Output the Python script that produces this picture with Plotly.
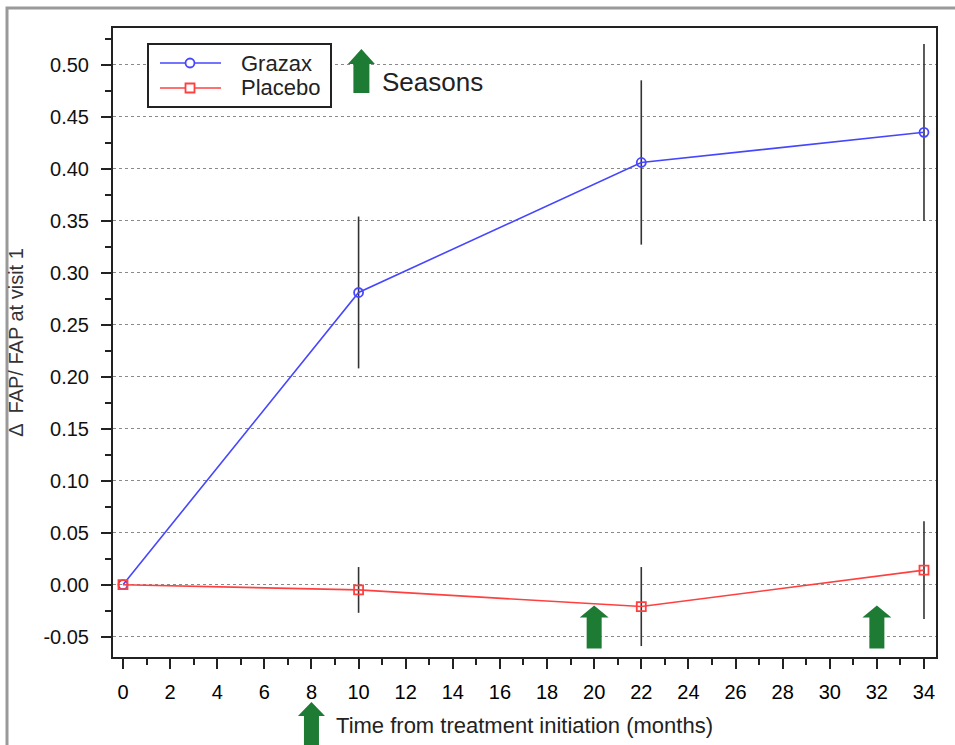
import plotly.graph_objects as go

# ---- data ----
months = [0, 10, 22, 34]
grazax = [0.0, 0.281, 0.406, 0.435]
grazax_err = [0.0, 0.073, 0.079, 0.085]
placebo = [0.0, -0.005, -0.021, 0.014]
placebo_err = [0.0, 0.022, 0.038, 0.047]
season_months = [8, 20, 32]
legend_arrow_month = 10.12
y_ticks = [-0.05, 0.0, 0.05, 0.10, 0.15, 0.20, 0.25, 0.30, 0.35, 0.40, 0.45, 0.50]
x_ticks = list(range(0, 35, 2))
series_names = ["Grazax", "Placebo"]

FONT = "Liberation Sans, Arial, sans-serif"
GREEN = "#1e7b34"
BLUE = "#4646ff"
RED = "#ff4040"

W, H = 955, 745
PL, PR, PT, PB = 113, 936, 28, 657  # plot area in screen pixels
ML, MR, MT, MB = PL, W - PR, PT, H - PB


def px(xp):
    return (xp - PL) / (PR - PL)


def py(yp):
    return (PB - yp) / (PB - PT)


fig = go.Figure()
fig.add_trace(go.Scatter(
    x=months, y=grazax, name=series_names[0], mode="lines+markers",
    line=dict(color=BLUE, width=1.6),
    marker=dict(symbol="circle-open", size=9, color=BLUE, line=dict(width=1.8)),
    error_y=dict(type="data", array=grazax_err, visible=True, color="#333333", thickness=1.6, width=0),
))
fig.add_trace(go.Scatter(
    x=months, y=placebo, name=series_names[1], mode="lines+markers",
    line=dict(color=RED, width=1.6),
    marker=dict(symbol="square-open", size=9, color=RED, line=dict(width=1.8)),
    error_y=dict(type="data", array=placebo_err, visible=True, color="#333333", thickness=1.6, width=0),
))


def arrow_path(head_w, shaft_w, head_h, total_h):
    hw, sw = head_w / 2, shaft_w / 2
    return (f"M0,0 L{hw},{-head_h} L{sw},{-head_h} L{sw},{-total_h} "
            f"L{-sw},{-total_h} L{-sw},{-head_h} L{-hw},{-head_h} Z")


shapes = []
# outer gray frame (right and bottom sides fall outside the picture)
shapes.append(dict(type="rect", xref="paper", yref="paper",
                   x0=px(7), x1=px(1000), y0=py(800), y1=py(8),
                   line=dict(color="#9a9a9a", width=3), fillcolor="rgba(0,0,0,0)", layer="below"))
# season arrows inside plot
for m in season_months[1:]:
    shapes.append(dict(type="path", xref="x", yref="y", xsizemode="pixel", ysizemode="pixel",
                       xanchor=m, yanchor=-0.020, path=arrow_path(29, 15, 12, 43),
                       fillcolor=GREEN, line=dict(width=0)))
# season arrow below x axis
shapes.append(dict(type="path", xref="x", yref="paper", xsizemode="pixel", ysizemode="pixel",
                   xanchor=season_months[0], yanchor=py(702), path=arrow_path(27, 15, 14, 60),
                   fillcolor=GREEN, line=dict(width=0)))
# "Seasons" legend arrow
shapes.append(dict(type="path", xref="x", yref="y", xsizemode="pixel", ysizemode="pixel",
                   xanchor=legend_arrow_month, yanchor=0.515, path=arrow_path(27, 16, 15, 44),
                   fillcolor=GREEN, line=dict(width=0)))

# manual legend box
shapes.append(dict(type="rect", xref="paper", yref="paper",
                   x0=px(148), x1=px(331), y0=py(107), y1=py(44),
                   line=dict(color="#222222", width=2), fillcolor="white"))
annotations = []
for name, color, yy, sym in [(series_names[0], BLUE, 63, "circle"), (series_names[1], RED, 88, "square")]:
    shapes.append(dict(type="line", xref="paper", yref="paper",
                       x0=px(160), x1=px(221), y0=py(yy), y1=py(yy),
                       line=dict(color=color, width=1.6)))
    shapes.append(dict(type="circle" if sym == "circle" else "rect",
                       xref="paper", yref="paper", xsizemode="pixel", ysizemode="pixel",
                       xanchor=px(190), yanchor=py(yy), x0=-4.5, x1=4.5, y0=-4.5, y1=4.5,
                       line=dict(color=color, width=1.8), fillcolor="white"))
    annotations.append(dict(text=name, xref="paper", yref="paper", x=px(239), y=py(yy),
                            xanchor="left", yanchor="middle", showarrow=False,
                            font=dict(size=22, family=FONT, color="#222222")))

annotations.append(dict(text="Seasons", xref="paper", yref="paper", x=px(380), y=py(82),
                        xanchor="left", yanchor="middle", showarrow=False,
                        font=dict(size=26, family=FONT, color="#222222")))

fig.update_layout(
    width=W, height=H,
    margin=dict(l=ML, r=MR, t=MT, b=MB),
    paper_bgcolor="white", plot_bgcolor="white",
    font=dict(family=FONT, color="#111111", size=20),
    shapes=shapes,
    annotations=annotations,
    showlegend=False,
)

fig.update_xaxes(
    automargin=False,
    range=[-0.424, 34.51], tickmode="array", tickvals=x_ticks,
    ticks="outside", ticklen=10, tickwidth=2, tickcolor="#222222",
    minor=dict(dtick=1, tick0=0, ticks="outside", ticklen=6, tickwidth=2, tickcolor="#222222", showgrid=False),
    showline=True, linecolor="#222222", linewidth=2, mirror=True,
    showgrid=False, zeroline=False,
    tickfont=dict(size=20, family=FONT, color="#000000"),
    title=dict(text="Time from treatment initiation (months)", font=dict(size=22, family=FONT, color="#222222"),
               standoff=16),
    ticklabelstandoff=6,
)
fig.update_yaxes(
    automargin=False,
    range=[-0.0695, 0.5353], tickmode="array", tickvals=y_ticks,
    ticktext=[f"{v:.2f}" for v in y_ticks],
    ticks="outside", ticklen=10, tickwidth=2, tickcolor="#222222",
    minor=dict(dtick=0.025, tick0=0, ticks="outside", ticklen=6, tickwidth=2, tickcolor="#222222", showgrid=False),
    showline=True, linecolor="#222222", linewidth=2, mirror=True,
    showgrid=True, gridcolor="#8a8a8a", gridwidth=1, griddash="dot", zeroline=False,
    tickfont=dict(size=20, family=FONT, color="#111111"),
    title=dict(text="\u0394  FAP/ FAP at visit 1", font=dict(size=20, family=FONT, color="#333333"),
               standoff=14),
    ticklabelstandoff=8,
)

fig.write_html("out.html",
               config={"displayModeBar": False},
               post_script="document.body.style.margin='0';document.body.style.overflow='hidden';")
